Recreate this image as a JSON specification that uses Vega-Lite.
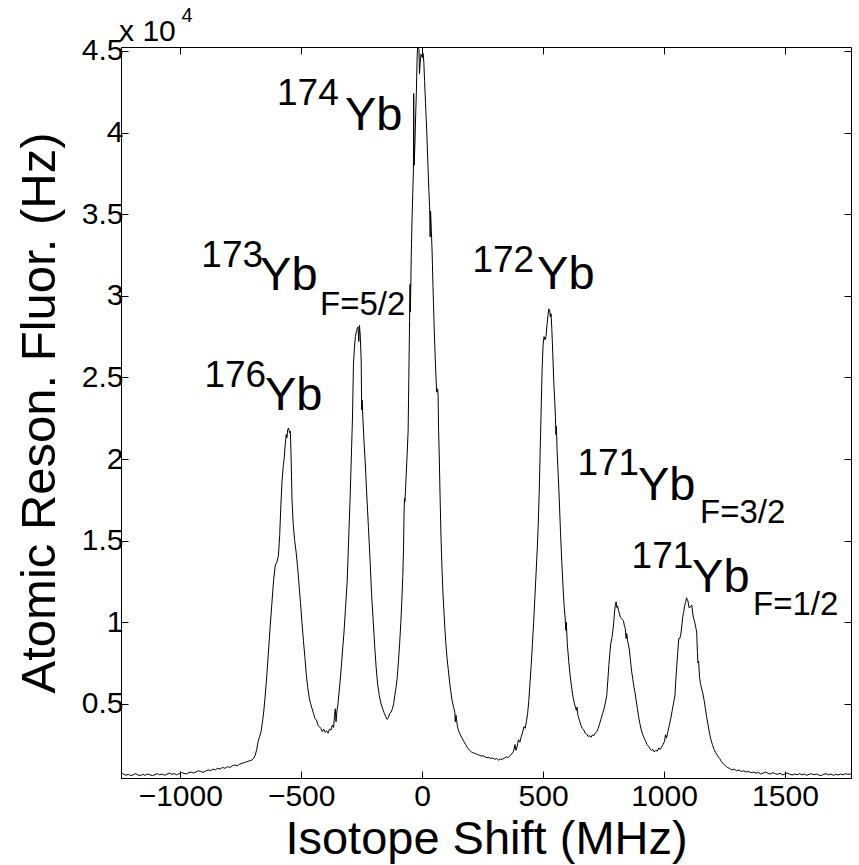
{
  "$schema": "https://vega.github.io/schema/vega-lite/v6.json",
  "width": 730,
  "height": 731,
  "autosize": {"type": "none"},
  "padding": {"left": 121, "top": 47, "right": 8, "bottom": 87},
  "background": "white",
  "config": {
    "view": {"stroke": "black", "strokeWidth": 1},
    "font": "Liberation Sans",
    "axis": {
      "domainColor": "black", "tickColor": "black", "labelColor": "black", "titleColor": "black",
      "labelFont": "Liberation Sans", "titleFont": "Liberation Sans",
      "labelFontSize": 30, "titleFontSize": 47, "titleFontWeight": "normal",
      "tickSize": -7, "grid": false
    }
  },
  "datasets": {
    "spectrum": [
      {"f":-1245,"v":750},{"f":-1235,"v":700},{"f":-1225,"v":620},{"f":-1215,"v":680},{"f":-1205,"v":600},{"f":-1195,"v":650},{"f":-1185,"v":720},{"f":-1175,"v":640},{"f":-1165,"v":600},{"f":-1155,"v":680},{"f":-1145,"v":620},{"f":-1135,"v":700},{"f":-1125,"v":650},{"f":-1115,"v":600},{"f":-1105,"v":660},{"f":-1095,"v":720},{"f":-1085,"v":650},{"f":-1075,"v":700},{"f":-1065,"v":620},{"f":-1055,"v":690},{"f":-1045,"v":750},{"f":-1035,"v":680},{"f":-1025,"v":720},{"f":-1015,"v":650},{"f":-1005,"v":720},{"f":-995,"v":800},{"f":-985,"v":740},{"f":-975,"v":700},{"f":-965,"v":780},{"f":-955,"v":820},{"f":-945,"v":760},{"f":-935,"v":830},{"f":-925,"v":900},{"f":-915,"v":850},{"f":-905,"v":800},{"f":-895,"v":880},{"f":-885,"v":950},{"f":-875,"v":900},{"f":-865,"v":1000},{"f":-855,"v":950},{"f":-845,"v":1050},{"f":-835,"v":1000},{"f":-825,"v":1100},{"f":-815,"v":1050},{"f":-805,"v":1150},{"f":-795,"v":1100},{"f":-785,"v":1200},{"f":-775,"v":1250},{"f":-765,"v":1200},{"f":-755,"v":1300},{"f":-745,"v":1350},{"f":-735,"v":1400},{"f":-725,"v":1450},{"f":-715,"v":1500},{"f":-705,"v":1550},{"f":-697,"v":1650},{"f":-690,"v":1850},{"f":-684,"v":2200},{"f":-678,"v":2700},{"f":-672,"v":3000},{"f":-666,"v":3300},{"f":-660,"v":3900},{"f":-655,"v":4500},{"f":-650,"v":5300},{"f":-645,"v":6200},{"f":-640,"v":7200},{"f":-634,"v":8500},{"f":-628,"v":9800},{"f":-621,"v":11200},{"f":-614,"v":12600},{"f":-607,"v":13500},{"f":-600,"v":13700},{"f":-594,"v":14100},{"f":-589,"v":15300},{"f":-584,"v":17200},{"f":-579,"v":18700},{"f":-574,"v":19600},{"f":-570,"v":20100},{"f":-566,"v":20900},{"f":-562,"v":21500},{"f":-559,"v":21300},{"f":-556,"v":21800},{"f":-552,"v":21900},{"f":-548,"v":21600},{"f":-545,"v":21700},{"f":-542,"v":20300},{"f":-538,"v":17500},{"f":-533,"v":16000},{"f":-527,"v":15000},{"f":-521,"v":14300},{"f":-515,"v":13400},{"f":-509,"v":12300},{"f":-503,"v":11200},{"f":-497,"v":10000},{"f":-491,"v":8900},{"f":-485,"v":7900},{"f":-479,"v":6800},{"f":-473,"v":6000},{"f":-467,"v":5400},{"f":-461,"v":5000},{"f":-455,"v":4700},{"f":-449,"v":4400},{"f":-443,"v":4100},{"f":-437,"v":4000},{"f":-431,"v":3700},{"f":-425,"v":3600},{"f":-419,"v":3500},{"f":-413,"v":3300},{"f":-407,"v":3450},{"f":-401,"v":3250},{"f":-395,"v":3350},{"f":-389,"v":3200},{"f":-383,"v":3450},{"f":-377,"v":3400},{"f":-371,"v":3700},{"f":-366,"v":3550},{"f":-362,"v":4300},{"f":-359,"v":4700},{"f":-356,"v":3900},{"f":-352,"v":4600},{"f":-348,"v":5000},{"f":-344,"v":5600},{"f":-339,"v":6400},{"f":-334,"v":7300},{"f":-329,"v":8300},{"f":-323,"v":9400},{"f":-317,"v":10800},{"f":-310,"v":12500},{"f":-304,"v":15000},{"f":-298,"v":17500},{"f":-292,"v":20500},{"f":-288,"v":22500},{"f":-284,"v":25800},{"f":-280,"v":26800},{"f":-276,"v":27500},{"f":-272,"v":27800},{"f":-268,"v":28000},{"f":-265,"v":28100},{"f":-262,"v":27200},{"f":-259,"v":28200},{"f":-256,"v":27600},{"f":-252,"v":26000},{"f":-250,"v":23000},{"f":-248,"v":23600},{"f":-245,"v":22500},{"f":-240,"v":21000},{"f":-235,"v":19700},{"f":-229,"v":17800},{"f":-222,"v":15800},{"f":-215,"v":13700},{"f":-209,"v":11700},{"f":-202,"v":10000},{"f":-196,"v":8500},{"f":-190,"v":7200},{"f":-184,"v":6200},{"f":-177,"v":5500},{"f":-170,"v":5000},{"f":-163,"v":4700},{"f":-156,"v":4400},{"f":-150,"v":4200},{"f":-145,"v":4050},{"f":-140,"v":4150},{"f":-134,"v":4400},{"f":-128,"v":4500},{"f":-123,"v":4700},{"f":-118,"v":5000},{"f":-113,"v":5500},{"f":-108,"v":6000},{"f":-103,"v":6600},{"f":-98,"v":7600},{"f":-93,"v":8700},{"f":-88,"v":10000},{"f":-84,"v":11300},{"f":-80,"v":12800},{"f":-77,"v":14500},{"f":-75,"v":16500},{"f":-73,"v":17600},{"f":-71,"v":17400},{"f":-69,"v":18000},{"f":-66,"v":19000},{"f":-62,"v":20300},{"f":-58,"v":21700},{"f":-55,"v":25000},{"f":-52,"v":28500},{"f":-50,"v":30700},{"f":-49,"v":29000},{"f":-47,"v":30500},{"f":-45,"v":32500},{"f":-42,"v":34500},{"f":-39,"v":36200},{"f":-36,"v":37700},{"f":-35,"v":42400},{"f":-33,"v":38000},{"f":-30,"v":39200},{"f":-27,"v":41000},{"f":-24,"v":42400},{"f":-21,"v":44500},{"f":-19,"v":45200},{"f":-16,"v":45200},{"f":-13,"v":45100},{"f":-11,"v":43600},{"f":-8,"v":44300},{"f":-5,"v":44800},{"f":-2,"v":44700},{"f":1,"v":44600},{"f":4,"v":44850},{"f":7,"v":44300},{"f":10,"v":43200},{"f":14,"v":41800},{"f":19,"v":40100},{"f":24,"v":38000},{"f":28,"v":36400},{"f":31,"v":35400},{"f":33,"v":33600},{"f":35,"v":35200},{"f":38,"v":34000},{"f":41,"v":32800},{"f":45,"v":30500},{"f":50,"v":27900},{"f":55,"v":25800},{"f":60,"v":24100},{"f":64,"v":24300},{"f":66,"v":23900},{"f":68,"v":21800},{"f":71,"v":20000},{"f":74,"v":17800},{"f":78,"v":15200},{"f":82,"v":13300},{"f":86,"v":11800},{"f":90,"v":10700},{"f":94,"v":9600},{"f":98,"v":8700},{"f":103,"v":7800},{"f":108,"v":7100},{"f":113,"v":6400},{"f":118,"v":5800},{"f":124,"v":5200},{"f":130,"v":4800},{"f":135,"v":4500},{"f":137,"v":3900},{"f":140,"v":4300},{"f":146,"v":3600},{"f":152,"v":3300},{"f":158,"v":3100},{"f":165,"v":2900},{"f":172,"v":2700},{"f":180,"v":2500},{"f":188,"v":2300},{"f":196,"v":2150},{"f":204,"v":2050},{"f":212,"v":2000},{"f":220,"v":1950},{"f":228,"v":1900},{"f":236,"v":1850},{"f":244,"v":1800},{"f":252,"v":1820},{"f":260,"v":1750},{"f":268,"v":1700},{"f":276,"v":1720},{"f":284,"v":1650},{"f":292,"v":1680},{"f":300,"v":1600},{"f":308,"v":1650},{"f":316,"v":1550},{"f":324,"v":1620},{"f":332,"v":1600},{"f":340,"v":1680},{"f":348,"v":1750},{"f":356,"v":1700},{"f":364,"v":1850},{"f":372,"v":1950},{"f":378,"v":2100},{"f":384,"v":2500},{"f":388,"v":2150},{"f":393,"v":2400},{"f":398,"v":2800},{"f":404,"v":2650},{"f":410,"v":3000},{"f":416,"v":3300},{"f":421,"v":3600},{"f":426,"v":3500},{"f":431,"v":3900},{"f":436,"v":4400},{"f":441,"v":5200},{"f":446,"v":6300},{"f":451,"v":7400},{"f":456,"v":8700},{"f":461,"v":10000},{"f":466,"v":11500},{"f":471,"v":13000},{"f":476,"v":14500},{"f":480,"v":16000},{"f":484,"v":18000},{"f":488,"v":20500},{"f":492,"v":23000},{"f":496,"v":25500},{"f":500,"v":27000},{"f":504,"v":27500},{"f":508,"v":27300},{"f":512,"v":27500},{"f":516,"v":28200},{"f":520,"v":28800},{"f":524,"v":29200},{"f":527,"v":29100},{"f":530,"v":28700},{"f":533,"v":28900},{"f":536,"v":28000},{"f":540,"v":26500},{"f":544,"v":24800},{"f":548,"v":23600},{"f":551,"v":22600},{"f":553,"v":21500},{"f":555,"v":22000},{"f":558,"v":20500},{"f":562,"v":19200},{"f":567,"v":17500},{"f":572,"v":15500},{"f":577,"v":13800},{"f":582,"v":12300},{"f":587,"v":11000},{"f":591,"v":10300},{"f":594,"v":9500},{"f":596,"v":10000},{"f":600,"v":8700},{"f":606,"v":7600},{"f":612,"v":6700},{"f":618,"v":6000},{"f":624,"v":5400},{"f":630,"v":5000},{"f":635,"v":4700},{"f":638,"v":4600},{"f":640,"v":4800},{"f":644,"v":4300},{"f":650,"v":4000},{"f":656,"v":3700},{"f":662,"v":3500},{"f":668,"v":3400},{"f":674,"v":3200},{"f":680,"v":3150},{"f":686,"v":3000},{"f":692,"v":3050},{"f":698,"v":2950},{"f":704,"v":3100},{"f":710,"v":3050},{"f":716,"v":3200},{"f":722,"v":3300},{"f":728,"v":3500},{"f":734,"v":3800},{"f":740,"v":4100},{"f":746,"v":4400},{"f":752,"v":4700},{"f":758,"v":5100},{"f":763,"v":5500},{"f":768,"v":6500},{"f":772,"v":7400},{"f":776,"v":8100},{"f":780,"v":8700},{"f":784,"v":9000},{"f":788,"v":9400},{"f":792,"v":10000},{"f":796,"v":10700},{"f":799,"v":11100},{"f":802,"v":11250},{"f":805,"v":10900},{"f":808,"v":11000},{"f":812,"v":10700},{"f":816,"v":10500},{"f":820,"v":10300},{"f":824,"v":10250},{"f":828,"v":10150},{"f":832,"v":10100},{"f":836,"v":9800},{"f":840,"v":9600},{"f":843,"v":9000},{"f":846,"v":9300},{"f":849,"v":8900},{"f":853,"v":8600},{"f":857,"v":8300},{"f":861,"v":7700},{"f":866,"v":7000},{"f":871,"v":6500},{"f":876,"v":6000},{"f":880,"v":5700},{"f":884,"v":5300},{"f":890,"v":4700},{"f":895,"v":4200},{"f":900,"v":3800},{"f":906,"v":3400},{"f":912,"v":3100},{"f":918,"v":2900},{"f":924,"v":2700},{"f":930,"v":2500},{"f":936,"v":2400},{"f":942,"v":2250},{"f":948,"v":2150},{"f":954,"v":2200},{"f":960,"v":2050},{"f":966,"v":2150},{"f":972,"v":2100},{"f":978,"v":2300},{"f":984,"v":2200},{"f":990,"v":2350},{"f":996,"v":2500},{"f":1002,"v":2700},{"f":1006,"v":3100},{"f":1010,"v":2900},{"f":1016,"v":3300},{"f":1022,"v":3700},{"f":1028,"v":4100},{"f":1034,"v":4600},{"f":1040,"v":5100},{"f":1045,"v":5500},{"f":1049,"v":6500},{"f":1053,"v":7400},{"f":1057,"v":8200},{"f":1061,"v":9000},{"f":1065,"v":9000},{"f":1069,"v":9200},{"f":1073,"v":9700},{"f":1077,"v":10300},{"f":1081,"v":10600},{"f":1085,"v":11000},{"f":1089,"v":11200},{"f":1093,"v":11500},{"f":1096,"v":11400},{"f":1099,"v":11300},{"f":1103,"v":10900},{"f":1107,"v":10900},{"f":1111,"v":11000},{"f":1115,"v":11050},{"f":1119,"v":10500},{"f":1123,"v":10200},{"f":1127,"v":10000},{"f":1131,"v":9700},{"f":1135,"v":9400},{"f":1138,"v":8200},{"f":1140,"v":7500},{"f":1143,"v":7600},{"f":1147,"v":6600},{"f":1151,"v":6200},{"f":1156,"v":5900},{"f":1161,"v":5600},{"f":1166,"v":5200},{"f":1171,"v":4700},{"f":1176,"v":4200},{"f":1182,"v":3700},{"f":1188,"v":3200},{"f":1194,"v":2800},{"f":1200,"v":2500},{"f":1207,"v":2200},{"f":1214,"v":2000},{"f":1222,"v":1800},{"f":1230,"v":1650},{"f":1238,"v":1450},{"f":1246,"v":1300},{"f":1254,"v":1200},{"f":1262,"v":1100},{"f":1270,"v":1050},{"f":1280,"v":950},{"f":1290,"v":1000},{"f":1300,"v":900},{"f":1310,"v":950},{"f":1320,"v":850},{"f":1330,"v":900},{"f":1340,"v":820},{"f":1350,"v":860},{"f":1360,"v":780},{"f":1370,"v":820},{"f":1380,"v":750},{"f":1390,"v":800},{"f":1400,"v":700},{"f":1410,"v":760},{"f":1420,"v":820},{"f":1430,"v":740},{"f":1440,"v":700},{"f":1450,"v":780},{"f":1460,"v":720},{"f":1470,"v":680},{"f":1480,"v":740},{"f":1490,"v":650},{"f":1500,"v":700},{"f":1510,"v":760},{"f":1520,"v":680},{"f":1530,"v":640},{"f":1540,"v":700},{"f":1550,"v":660},{"f":1560,"v":720},{"f":1570,"v":650},{"f":1580,"v":700},{"f":1590,"v":620},{"f":1600,"v":680},{"f":1610,"v":720},{"f":1620,"v":650},{"f":1630,"v":700},{"f":1640,"v":640},{"f":1650,"v":600},{"f":1660,"v":680},{"f":1670,"v":720},{"f":1680,"v":650},{"f":1690,"v":700},{"f":1700,"v":620},{"f":1710,"v":680},{"f":1720,"v":640},{"f":1730,"v":700},{"f":1740,"v":650},{"f":1750,"v":720},{"f":1760,"v":680},{"f":1773,"v":700}
    ],
    "labels": [
      {"t":"174","k":"mass","ax":-600,"ay":41691},
      {"t":"Yb","k":"sym","ax":-319,"ay":40159},
      {"t":"173","k":"mass","ax":-913,"ay":31783},
      {"t":"Yb","k":"sym","ax":-670,"ay":30356},
      {"t":"F=5/2","k":"sub","ax":-422,"ay":28824},
      {"t":"176","k":"mass","ax":-900,"ay":24431},
      {"t":"Yb","k":"sym","ax":-650,"ay":23003},
      {"t":"172","k":"mass","ax":208,"ay":31459},
      {"t":"Yb","k":"sym","ax":475,"ay":30417},
      {"t":"171","k":"mass","ax":642,"ay":19020},
      {"t":"Yb","k":"sym","ax":892,"ay":17489},
      {"t":"F=3/2","k":"sub","ax":1149,"ay":16079},
      {"t":"171","k":"mass","ax":866,"ay":13322},
      {"t":"Yb","k":"sym","ax":1116,"ay":11852},
      {"t":"F=1/2","k":"sub","ax":1368,"ay":10442},
      {"t":"x 10","k":"exp","ax":-1253,"ay":45631},
      {"t":"4","k":"expsup","ax":-995,"ay":46795}
    ]
  },
  "layer": [
    {
      "data": {"name": "spectrum"},
      "mark": {"type": "line", "color": "black", "strokeWidth": 1, "clip": true, "interpolate": "linear"},
      "encoding": {
        "x": {"field": "f", "type": "quantitative", "sort": null,
          "scale": {"domain": [-1245, 1773], "nice": false, "zero": false},
          "axis": {"orient": "bottom", "values": [-1000, -500, 0, 500, 1000, 1500], "format": "d", "title": "Isotope Shift (MHz)", "labelPadding": 10, "titlePadding": 5}},
        "y": {"field": "v", "type": "quantitative",
          "scale": {"domain": [455, 45245], "nice": false, "zero": false},
          "axis": {"orient": "left", "values": [5000, 10000, 15000, 20000, 25000, 30000, 35000, 40000, 45000], "labelExpr": "datum.value / 10000", "title": "Atomic Reson. Fluor. (Hz)", "titleFontSize": 49, "labelPadding": 5, "titlePadding": 17}}
      }
    },
    {
      "data": {"name": "labels"},
      "transform": [{"filter": "datum.k === 'sym'"}],
      "mark": {"type": "text", "fontSize": 47, "align": "left", "baseline": "alphabetic", "color": "black", "font": "Liberation Sans"},
      "encoding": {
        "x": {"field": "ax", "type": "quantitative", "axis": {"orient": "top", "values": [-1000, -500, 0, 500, 1000, 1500], "labels": false, "title": null, "domain": false}},
        "y": {"field": "ay", "type": "quantitative", "axis": {"orient": "right", "values": [5000, 10000, 15000, 20000, 25000, 30000, 35000, 40000, 45000], "labels": false, "title": null, "domain": false}},
        "text": {"field": "t"}
      }
    },
    {
      "data": {"name": "labels"},
      "transform": [{"filter": "datum.k === 'mass'"}],
      "mark": {"type": "text", "fontSize": 37, "align": "left", "baseline": "alphabetic", "color": "black", "font": "Liberation Sans"},
      "encoding": {
        "x": {"field": "ax", "type": "quantitative", "axis": null},
        "y": {"field": "ay", "type": "quantitative", "axis": null},
        "text": {"field": "t"}
      }
    },
    {
      "data": {"name": "labels"},
      "transform": [{"filter": "datum.k === 'sub'"}],
      "mark": {"type": "text", "fontSize": 33, "align": "left", "baseline": "alphabetic", "color": "black", "font": "Liberation Sans"},
      "encoding": {
        "x": {"field": "ax", "type": "quantitative", "axis": null},
        "y": {"field": "ay", "type": "quantitative", "axis": null},
        "text": {"field": "t"}
      }
    },
    {
      "data": {"name": "labels"},
      "transform": [{"filter": "datum.k === 'exp'"}],
      "mark": {"type": "text", "fontSize": 30, "align": "left", "baseline": "alphabetic", "color": "black", "font": "Liberation Sans"},
      "encoding": {
        "x": {"field": "ax", "type": "quantitative", "axis": null},
        "y": {"field": "ay", "type": "quantitative", "axis": null},
        "text": {"field": "t"}
      }
    },
    {
      "data": {"name": "labels"},
      "transform": [{"filter": "datum.k === 'expsup'"}],
      "mark": {"type": "text", "fontSize": 20, "align": "left", "baseline": "alphabetic", "color": "black", "font": "Liberation Sans"},
      "encoding": {
        "x": {"field": "ax", "type": "quantitative", "axis": null},
        "y": {"field": "ay", "type": "quantitative", "axis": null},
        "text": {"field": "t"}
      }
    }
  ],
  "resolve": {"axis": {"x": "independent", "y": "independent"}}
}
